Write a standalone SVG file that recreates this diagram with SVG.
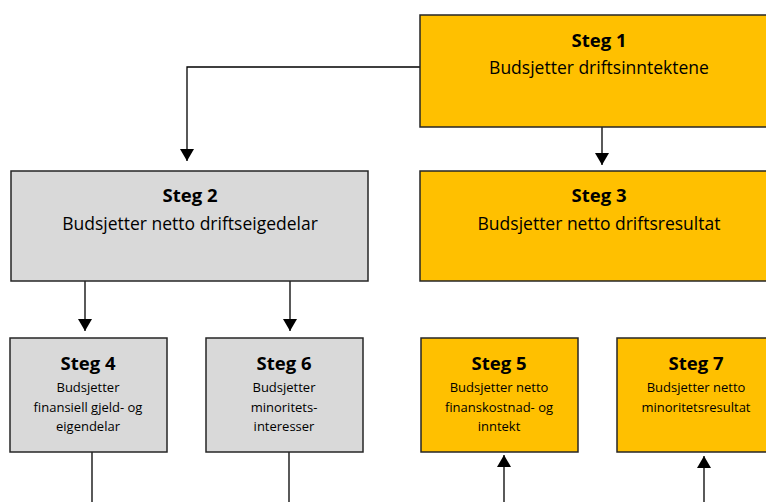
<svg xmlns="http://www.w3.org/2000/svg" width="766" height="502" viewBox="0 0 766 502">
<defs>
<style>
.box{stroke:#262626;stroke-width:1.5}
.y{fill:#FFC000}
.g{fill:#D9D9D9}
.t{font-family:"Open Sans","Noto Sans",sans-serif;fill:#000;text-anchor:middle}
.h{font-weight:bold;font-size:18.5px}
.hs{font-weight:bold;font-size:18.5px}
.b{font-size:17.5px}
.s{font-size:13px}
.c{stroke:#000;stroke-width:1.3;fill:none}
</style>
<marker id="ah" markerWidth="12" markerHeight="14" refX="12" refY="7" orient="auto" markerUnits="userSpaceOnUse">
<path d="M0,0 L12,7 L0,14 Z" fill="#000"/>
</marker>
</defs>
<rect width="766" height="502" fill="#fff"/>
<g id="connectors">
<path class="c" d="M420,67 H187 V161" marker-end="url(#ah)"/>
<path class="c" d="M602,127 V165" marker-end="url(#ah)"/>
<path class="c" d="M85,281 V331" marker-end="url(#ah)"/>
<path class="c" d="M290,281 V331" marker-end="url(#ah)"/>
<path class="c" d="M92,452 V502"/>
<path class="c" d="M289,452 V502"/>
<path class="c" d="M504,502 V455" marker-end="url(#ah)"/>
<path class="c" d="M704,502 V456" marker-end="url(#ah)"/>
</g>
<g id="steg1">
<rect class="box y" x="420" y="15" width="360" height="112"/>
<text class="t h" x="599" y="47">Steg 1</text>
<text class="t b" x="599" y="74">Budsjetter driftsinntektene</text>
</g>
<g id="steg2">
<rect class="box g" x="11" y="171" width="357" height="110"/>
<text class="t h" x="190" y="202">Steg 2</text>
<text class="t b" x="190" y="230">Budsjetter netto driftseigedelar</text>
</g>
<g id="steg3">
<rect class="box y" x="420" y="171" width="360" height="110"/>
<text class="t h" x="599" y="202">Steg 3</text>
<text class="t b" x="599" y="230">Budsjetter netto driftsresultat</text>
</g>
<g id="steg4">
<rect class="box g" x="10" y="338" width="157" height="114"/>
<text class="t hs" x="88" y="370">Steg 4</text>
<text class="t s" x="88" y="392">Budsjetter</text>
<text class="t s" x="88" y="412">finansiell gjeld- og</text>
<text class="t s" x="88" y="431">eigendelar</text>
</g>
<g id="steg6">
<rect class="box g" x="206" y="338" width="157" height="114"/>
<text class="t hs" x="284" y="370">Steg 6</text>
<text class="t s" x="284" y="392">Budsjetter</text>
<text class="t s" x="284" y="412">minoritets-</text>
<text class="t s" x="284" y="431">interesser</text>
</g>
<g id="steg5">
<rect class="box y" x="421" y="338" width="157" height="114"/>
<text class="t hs" x="499" y="370">Steg 5</text>
<text class="t s" x="499" y="392">Budsjetter netto</text>
<text class="t s" x="499" y="412">finanskostnad- og</text>
<text class="t s" x="499" y="431">inntekt</text>
</g>
<g id="steg7">
<rect class="box y" x="617" y="338" width="160" height="114"/>
<text class="t hs" x="696" y="370">Steg 7</text>
<text class="t s" x="696" y="392">Budsjetter netto</text>
<text class="t s" x="696" y="412">minoritetsresultat</text>
</g>
</svg>
